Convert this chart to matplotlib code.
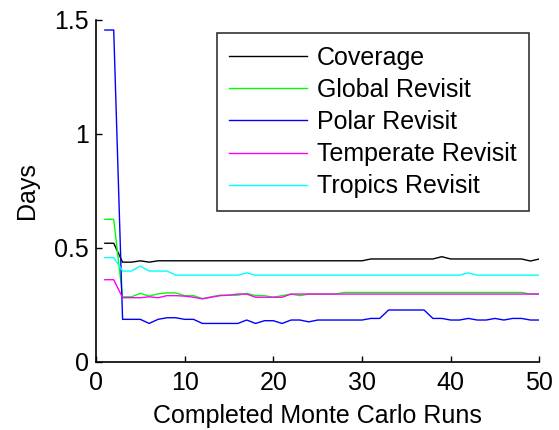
import numpy as np
import matplotlib
matplotlib.use('Agg')
import matplotlib.pyplot as plt

plt.rcParams['font.family'] = ['Liberation Sans', 'DejaVu Sans']

runs = np.arange(1, 51)

coverage = [0.52, 0.52, 0.437, 0.437, 0.443, 0.437, 0.443, 0.443, 0.443, 0.443,
            0.443, 0.443, 0.443, 0.443, 0.443, 0.443, 0.443, 0.443, 0.443, 0.443,
            0.443, 0.443, 0.443, 0.443, 0.443, 0.443, 0.443, 0.443, 0.443, 0.443,
            0.451, 0.451, 0.451, 0.451, 0.451, 0.451, 0.451, 0.451, 0.461, 0.451,
            0.451, 0.451, 0.451, 0.451, 0.451, 0.451, 0.451, 0.451, 0.442, 0.451]

global_rev = [0.625, 0.625, 0.285, 0.285, 0.300, 0.288, 0.298, 0.302, 0.302, 0.290,
              0.290, 0.277, 0.285, 0.292, 0.292, 0.292, 0.300, 0.290, 0.290, 0.283,
              0.290, 0.297, 0.290, 0.297, 0.297, 0.297, 0.297, 0.304, 0.304, 0.304,
              0.304, 0.304, 0.304, 0.304, 0.304, 0.304, 0.304, 0.304, 0.304, 0.304,
              0.304, 0.304, 0.304, 0.304, 0.304, 0.304, 0.304, 0.304, 0.297, 0.297]

polar_rev = [1.456, 1.456, 0.186, 0.186, 0.186, 0.168, 0.186, 0.193, 0.193, 0.186,
             0.186, 0.168, 0.168, 0.168, 0.168, 0.168, 0.183, 0.168, 0.180, 0.180,
             0.168, 0.183, 0.183, 0.175, 0.183, 0.183, 0.183, 0.183, 0.183, 0.183,
             0.190, 0.190, 0.227, 0.227, 0.227, 0.227, 0.227, 0.190, 0.190, 0.183,
             0.183, 0.190, 0.183, 0.183, 0.190, 0.183, 0.190, 0.190, 0.183, 0.183]

temperate_rev = [0.36, 0.36, 0.281, 0.281, 0.281, 0.285, 0.281, 0.290, 0.290, 0.288,
                 0.283, 0.276, 0.283, 0.290, 0.292, 0.297, 0.297, 0.283, 0.283, 0.283,
                 0.283, 0.297, 0.297, 0.297, 0.297, 0.297, 0.297, 0.297, 0.297, 0.297,
                 0.297, 0.297, 0.297, 0.297, 0.297, 0.297, 0.297, 0.297, 0.297, 0.297,
                 0.297, 0.297, 0.297, 0.297, 0.297, 0.297, 0.297, 0.297, 0.297, 0.297]

tropics_rev = [0.457, 0.457, 0.398, 0.398, 0.420, 0.398, 0.398, 0.398, 0.380, 0.380,
               0.380, 0.380, 0.380, 0.380, 0.380, 0.380, 0.390, 0.380, 0.380, 0.380,
               0.380, 0.380, 0.380, 0.380, 0.380, 0.380, 0.380, 0.380, 0.380, 0.380,
               0.380, 0.380, 0.380, 0.380, 0.380, 0.380, 0.380, 0.380, 0.380, 0.380,
               0.380, 0.390, 0.380, 0.380, 0.380, 0.380, 0.380, 0.380, 0.380, 0.380]

fig = plt.figure(figsize=(5.59, 4.30), dpi=100)
ax = fig.add_axes([0.1717, 0.1588, 0.7931, 0.7947])

lw = 1.0
ax.plot(runs, coverage, color='k', lw=lw, label='Coverage')
ax.plot(runs, global_rev, color='#00ff00', lw=lw, label='Global Revisit')
ax.plot(runs, polar_rev, color='#0000ff', lw=lw, label='Polar Revisit')
ax.plot(runs, temperate_rev, color='#ff00ff', lw=lw, label='Temperate Revisit')
ax.plot(runs, tropics_rev, color='#00ffff', lw=lw, label='Tropics Revisit')

ax.set_xlim(0, 50)
ax.set_ylim(0, 1.5)
ax.set_xticks([0, 10, 20, 30, 40, 50])
ax.set_yticks([0, 0.5, 1, 1.5])
ax.set_yticklabels(['0', '0.5', '1', '1.5'])
ax.spines['top'].set_visible(False)
ax.spines['right'].set_visible(False)
for s in ['left', 'bottom']:
    ax.spines[s].set_linewidth(1.2)
ax.tick_params(axis='both', direction='in', length=4, width=1.0, labelsize=18)
ax.tick_params(axis='x', pad=7)
ax.tick_params(axis='y', pad=5)

ax.set_xlabel('Completed Monte Carlo Runs', fontsize=18, labelpad=6)
ax.set_ylabel('Days', fontsize=18, labelpad=11)

leg = ax.legend(loc='upper right', bbox_to_anchor=(529 / 559, 1 - 33 / 430),
                bbox_transform=fig.transFigure, fontsize=18, frameon=True,
                fancybox=False, edgecolor='k', handlelength=3.1,
                handletextpad=0.4, labelspacing=0.33, borderpad=0.5,
                borderaxespad=0)
leg.get_frame().set_linewidth(1.2)

fig.savefig('out.png', dpi=100)
